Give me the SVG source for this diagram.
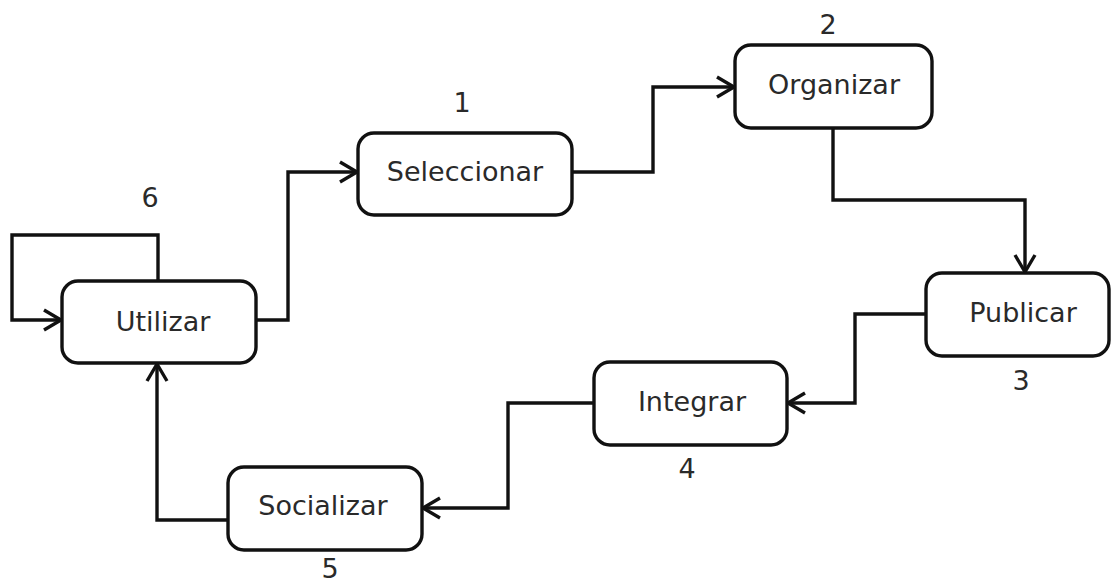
<svg xmlns="http://www.w3.org/2000/svg" width="1112" height="586" viewBox="0 0 1112 586">
  <defs>
    <marker id="chevron" markerUnits="userSpaceOnUse" markerWidth="30" markerHeight="30" viewBox="-20 -15 24 30" refX="0" refY="0" orient="auto">
      <path d="M-17,-10 L0,0 L-17,10" fill="none" stroke="#111" stroke-width="3.4"/>
    </marker>
  </defs>
  <style>
    .box { fill: #fff; stroke: #111; stroke-width: 3.4; }
    .lbl { font-family: "DejaVu Sans", "Liberation Sans", sans-serif; font-size: 27px; fill: #2a2a2a; text-anchor: middle; }
    .num { font-family: "DejaVu Sans", "Liberation Sans", sans-serif; font-size: 27px; fill: #2a2a2a; text-anchor: middle; }
    .edge { fill: none; stroke: #111; stroke-width: 3.4; marker-end: url(#chevron); }
  </style>
  <rect width="1112" height="586" fill="#fff"/>

  <g id="connectors">
    <path class="edge" d="M256,320 H288 V172 H357"/>
    <path class="edge" d="M572,172 H653 V87 H734"/>
    <path class="edge" d="M833,128 V200 H1025 V272"/>
    <path class="edge" d="M926,314 H855 V403 H788"/>
    <path class="edge" d="M594,403 H508 V508 H423"/>
    <path class="edge" d="M228,520 H157 V364"/>
    <path class="edge" d="M158,281 V235 H12 V320 H61"/>
  </g>

  <g id="utilizar">
    <rect class="box" x="62" y="281" width="194" height="82" rx="16"/>
    <text class="lbl" x="163" y="331">Utilizar</text>
    <text class="num" x="150" y="207">6</text>
  </g>
  <g id="seleccionar">
    <rect class="box" x="358" y="133" width="214" height="82" rx="16"/>
    <text class="lbl" x="465" y="181">Seleccionar</text>
    <text class="num" x="462" y="112">1</text>
  </g>
  <g id="organizar">
    <rect class="box" x="735" y="45" width="197" height="83" rx="16"/>
    <text class="lbl" x="834" y="94">Organizar</text>
    <text class="num" x="828" y="34">2</text>
  </g>
  <g id="publicar">
    <rect class="box" x="926" y="273" width="183" height="83" rx="16"/>
    <text class="lbl" x="1023" y="322">Publicar</text>
    <text class="num" x="1021" y="390">3</text>
  </g>
  <g id="integrar">
    <rect class="box" x="594" y="362" width="193" height="83" rx="16"/>
    <text class="lbl" x="692" y="411">Integrar</text>
    <text class="num" x="687" y="478">4</text>
  </g>
  <g id="socializar">
    <rect class="box" x="228" y="467" width="194" height="83" rx="16"/>
    <text class="lbl" x="323" y="515">Socializar</text>
    <text class="num" x="330" y="578">5</text>
  </g>
</svg>
